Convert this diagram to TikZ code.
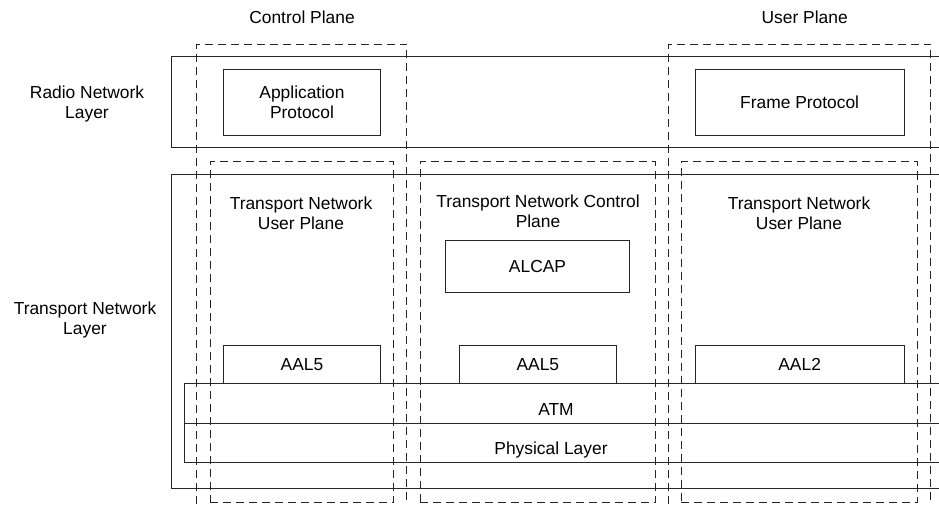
\documentclass[tikz,border=0pt]{standalone}
\usepackage{fontspec}
\setmainfont{Liberation Sans}
\begin{document}
\begin{tikzpicture}[x=1pt,y=-1pt,
  every node/.style={font=\fontsize{17.4}{20}\selectfont},
  frame/.style={draw=black!85, line width=0.9pt, inner sep=0pt, outer sep=0pt, anchor=north west, align=center},
  zone/.style={frame, dash pattern=on 8pt off 5pt},
  lbl/.style={inner sep=0pt, align=center}]
\useasboundingbox (0,0) rectangle (939,505);
\clip (0,0) rectangle (939,505);

% layer bands (open to the right)
\node[frame, minimum width=800, minimum height=91.7] (radio) at (171,56) {};
\node[frame, minimum width=800, minimum height=314.3] (tnl) at (171,174.3) {};
\node[frame, minimum width=780, minimum height=40] (atm) at (184,383.3) {};
\node[frame, minimum width=780, minimum height=39.2] (phy) at (184,423.3) {};

% protocol boxes
\node[frame, minimum width=157.4, minimum height=65.3] (app) at (223.3,69.7) {Application\\Protocol};
\node[frame, minimum width=209.3, minimum height=65.3] (fp) at (695,69.7) {Frame Protocol};
\node[frame, minimum width=183.6, minimum height=52.3] (alcap) at (445.7,240) {ALCAP};
\node[frame, minimum width=157.4, minimum height=38.3] (aal5a) at (223.3,345) {AAL5};
\node[frame, minimum width=157.7, minimum height=38.3] (aal5b) at (459,345) {AAL5};
\node[frame, minimum width=209.3, minimum height=38.3] (aal2) at (695,345) {AAL2};

% plane outlines
\node[zone, minimum width=210, minimum height=480] (cp) at (196.7,44) {};
\node[zone, minimum width=262, minimum height=480] (up) at (668.7,44) {};
\node[zone, minimum width=183.3, minimum height=340.5] (tnup1) at (210,161.7) {};
\node[zone, minimum width=235.5, minimum height=340.5] (tncp) at (420,161.7) {};
\node[zone, minimum width=236.3, minimum height=340.5] (tnup2) at (681,161.7) {};

% labels
\node[lbl, anchor=base] (cpl) at (302,24) {Control Plane};
\node[lbl, anchor=base] (upl) at (804.7,24) {User Plane};
\node[lbl, anchor=north] (rnl) at (87,86) {Radio Network\\Layer};
\node[lbl, anchor=north] (tnll) at (85,301.5) {Transport Network\\Layer};
\node[lbl, anchor=north] (t1) at (301,196.5) {Transport Network\\User Plane};
\node[lbl, anchor=north] (t2) at (538,195) {Transport Network Control\\Plane};
\node[lbl, anchor=north] (t3) at (799,196.5) {Transport Network\\User Plane};
\node[lbl, anchor=base] (atmt) at (556,415.3) {ATM};
\node[lbl, anchor=base] (phyt) at (551,454) {Physical Layer};
\end{tikzpicture}
\end{document}
